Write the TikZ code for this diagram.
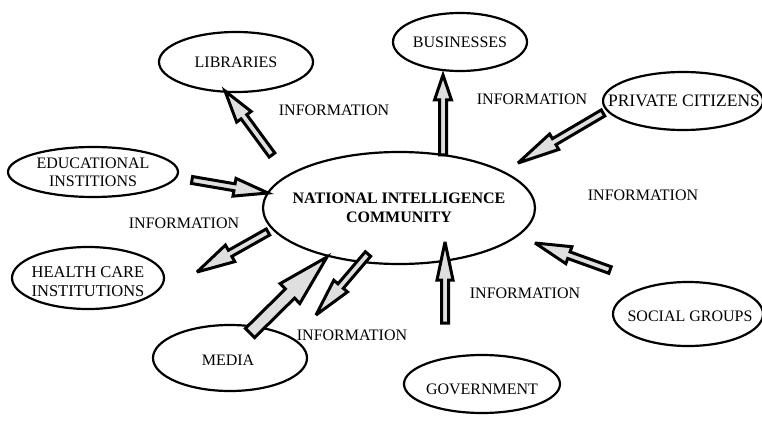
\documentclass[tikz,border=0pt]{standalone}
\usepackage{fontspec}
\setmainfont{Liberation Serif}
\usetikzlibrary{shapes.geometric,calc}
\tikzset{
  x=1pt,y=-1pt,
  oval/.style={draw,line width=2.2pt,ellipse,inner sep=0pt},
  txt/.style={inner sep=0pt,align=center,font=\fontsize{16}{18}\selectfont},
  infolabel/.style={font=\fontsize{16}{18}\selectfont,inner sep=0pt},
  barrow/.style={draw,line width=3pt,fill=gray!25,line join=miter,miter limit=4}
}
\newcommand\blockarr[5]{%
  \coordinate (ba-h) at ($(#2)!#5!(#1)$);
  \draw[barrow] ($(#1)!#3!90:(#2)$) -- ($(ba-h)!#3!90:(#2)$) -- ($(ba-h)!#4!90:(#2)$) -- (#2)
    -- ($(ba-h)!#4!-90:(#2)$) -- ($(ba-h)!#3!-90:(#2)$) -- ($(#1)!#3!-90:(#2)$) -- cycle;}
\begin{document}
\begin{tikzpicture}
\useasboundingbox (0,0) rectangle (762,422);
% ellipses
\node[oval,minimum width=154,minimum height=60] (lib) at (236,62) {};
\node[oval,minimum width=134,minimum height=58] (bus) at (460,42) {};
\node[oval,minimum width=160,minimum height=58] (pc) at (683,101) {};
\node[oval,minimum width=170,minimum height=50] (edu) at (93,172) {};
\node[oval,minimum width=152,minimum height=62] (hc) at (88,278) {};
\node[oval,minimum width=272,minimum height=112] (nic) at (399,208) {};
\node[oval,minimum width=154,minimum height=66] (med) at (230,358) {};
\node[oval,minimum width=156,minimum height=58] (gov) at (482,384) {};
\node[oval,minimum width=150,minimum height=64] (soc) at (688,314) {};
% texts
\node[txt] (libt) at (lib) {LIBRARIES};
\node[txt] (bust) at (bus) {BUSINESSES};
\node[txt,font=\fontsize{17.5}{19}\selectfont] (pct) at (684,101) {PRIVATE CITIZENS};
\node[txt] (edut) at (edu) {EDUCATIONAL\\INSTITIONS};
\node[txt,font=\fontsize{16.5}{19}\selectfont] (hct) at (88,282) {HEALTH CARE\\INSTITUTIONS};
\node[txt,font=\fontsize{16}{19}\bfseries] (nict) at (nic) {NATIONAL INTELLIGENCE\\COMMUNITY};
\node[txt] (medt) at (228,360) {MEDIA};
\node[txt] (govt) at (482,389) {GOVERNMENT};
\node[txt] (soct) at (690,316) {SOCIAL GROUPS};
% labels
\node[infolabel] (i1) at (334,110) {INFORMATION};
\node[infolabel] (i2) at (532,99) {INFORMATION};
\node[infolabel] (i3) at (643,195) {INFORMATION};
\node[infolabel] (i4) at (184,223) {INFORMATION};
\node[infolabel] (i5) at (352,335) {INFORMATION};
\node[infolabel] (i6) at (525,293) {INFORMATION};
% arrow end points
\coordinate (a1t) at (272,155); \coordinate (a1p) at (225,91);
\coordinate (a2t) at (443,155); \coordinate (a2p) at (443,75);
\coordinate (a3t) at (603,113); \coordinate (a3p) at (518,163);
\coordinate (a4t) at (192,180); \coordinate (a4p) at (268,193);
\coordinate (a5t) at (268,232); \coordinate (a5p) at (197,272);
\coordinate (a6t) at (250,333); \coordinate (a6p) at (327,257);
\coordinate (a7t) at (368,254); \coordinate (a7p) at (316,315);
\coordinate (a8t) at (445,323); \coordinate (a8p) at (445,242);
\coordinate (a9t) at (610,270); \coordinate (a9p) at (535,243);
\blockarr{a1t}{a1p}{3.5pt}{9pt}{32pt}
\blockarr{a2t}{a2p}{3.5pt}{8.5pt}{25pt}
\blockarr{a3t}{a3p}{3.5pt}{9pt}{42pt}
\blockarr{a4t}{a4p}{3.5pt}{9pt}{34pt}
\blockarr{a5t}{a5p}{3.5pt}{9.5pt}{38pt}
\blockarr{a6t}{a6p}{6.5pt}{14pt}{52pt}
\blockarr{a7t}{a7p}{3.5pt}{9pt}{38pt}
\blockarr{a8t}{a8p}{3.5pt}{8pt}{38pt}
\blockarr{a9t}{a9p}{3.5pt}{9pt}{36pt}
\end{tikzpicture}
\end{document}
